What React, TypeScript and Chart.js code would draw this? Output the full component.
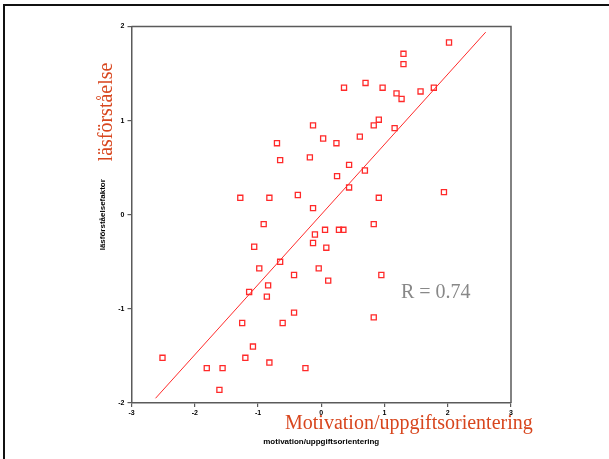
import React, { useEffect, useRef } from "react";
import { Chart, registerables } from "chart.js";

Chart.register(...registerables);

// Scatter data (standardised scores)
const motivationX: number[] = [
  2.02, 1.30, 1.30, 0.36, 0.70, 0.97, 1.19, 1.27, 1.57, 1.78,
  -0.13, 0.03, 0.24, 0.61, 0.83, 0.91, 1.16, -0.70, -0.65, -0.18,
  0.44, 0.69, 0.25, 0.44, 0.91, 1.94, -1.28, -0.82, -0.37, -0.13,
  -0.91, -0.10, -0.13, -1.06, -0.65, -0.04, -0.98, -0.43, -0.84, -1.14,
  -0.86, -0.43, -1.25, -0.61, -1.08, -2.51, -1.20, -0.82, -1.81, -1.56,
  -0.25, -1.61, 0.06, 0.28, 0.35, 0.83, 0.08, 0.11, 0.95, 0.83,
];
const lasforstaelseY: number[] = [
  1.83, 1.71, 1.60, 1.35, 1.40, 1.35, 1.29, 1.23, 1.31, 1.35,
  0.95, 0.81, 0.76, 0.83, 0.95, 1.01, 0.92, 0.76, 0.58, 0.61,
  0.53, 0.47, 0.41, 0.29, 0.18, 0.24, 0.18, 0.18, 0.21, 0.07,
  -0.10, -0.21, -0.30, -0.34, -0.50, -0.57, -0.57, -0.64, -0.75, -0.82,
  -0.87, -1.04, -1.15, -1.15, -1.40, -1.52, -1.52, -1.57, -1.63, -1.63,
  -1.63, -1.86, -0.16, -0.16, -0.16, -0.10, -0.35, -0.70, -0.64, -1.09,
];

// Regression line end points
const fitX: number[] = [-2.62, 2.6];
const fitY: number[] = [-1.95, 1.94];

const xTickValues: number[] = [-3, -2, -1, 0, 1, 2, 3];
const yTickValues: number[] = [-2, -1, 0, 1, 2];

const yTitleBig = "läsförståelse";
const xTitleBig = "Motivation/uppgiftsorientering";
const yTitleSmall = "läsförståelsefaktor";
const xTitleSmall = "motivation/uppgiftsorientering";
const rLabel = "R = 0.74";

const RED = "#ff2a2a";
const ORANGE = "#d8461e";
const FRAME = "#5a5a5a";

const framePlugin = {
  id: "frame",
  afterDraw(chart: any) {
    const { ctx, chartArea } = chart;
    ctx.save();
    ctx.strokeStyle = FRAME;
    ctx.lineWidth = 1.5;
    ctx.beginPath();
    ctx.moveTo(chartArea.left, chartArea.top);
    ctx.lineTo(chartArea.right, chartArea.top);
    ctx.lineTo(chartArea.right, chartArea.bottom);
    ctx.stroke();
    ctx.restore();
  },
};

export default function App() {
  const ref = useRef<HTMLCanvasElement | null>(null);

  useEffect(() => {
    if (!ref.current) return;
    const points = motivationX.map((x, i) => ({ x, y: lasforstaelseY[i] }));
    const fit = fitX.map((x, i) => ({ x, y: fitY[i] }));
    const tickFont = { family: "Arial, 'Liberation Sans', sans-serif", size: 7, weight: "bold" as const };
    const titleFont = { family: "Arial, 'Liberation Sans', sans-serif", size: 8, weight: "bold" as const };

    const chart = new Chart(ref.current, {
      type: "scatter",
      data: {
        datasets: [
          {
            type: "line",
            data: fit,
            borderColor: RED,
            borderWidth: 1,
            pointRadius: 0,
            showLine: true,
            fill: false,
          } as any,
          {
            data: points,
            pointStyle: "rect",
            pointRadius: 3.6,
            borderColor: RED,
            backgroundColor: "rgba(255,255,255,0)",
            borderWidth: 1.3,
          },
        ],
      },
      options: {
        responsive: false,
        animation: false,
        layout: { padding: { left: 98, top: 26.5, right: 98, bottom: 12 } },
        plugins: { legend: { display: false }, tooltip: { enabled: false } },
        scales: {
          x: {
            type: "linear",
            min: -3,
            max: 3,
            afterBuildTicks: (s: any) => {
              s.ticks = xTickValues.map((v) => ({ value: v }));
            },
            afterFit: (s: any) => {
              s.height = 44;
            },
            ticks: { font: tickFont, color: "#000", padding: 2, maxRotation: 0 },
            grid: { display: true, drawOnChartArea: false, drawTicks: true, tickLength: 4, color: FRAME, lineWidth: 1.2 },
            border: { display: true, color: FRAME, width: 1.5 },
            title: {
              display: true,
              text: xTitleSmall,
              color: "#000",
              font: titleFont,
              padding: { top: 0, bottom: 0 },
            },
          },
          y: {
            type: "linear",
            min: -2,
            max: 2,
            afterBuildTicks: (s: any) => {
              s.ticks = yTickValues.map((v) => ({ value: v }));
            },
            afterFit: (s: any) => {
              s.width = 33.5;
            },
            ticks: { font: tickFont, color: "#000", padding: 3 },
            grid: { display: true, drawOnChartArea: false, drawTicks: true, tickLength: 4, color: FRAME, lineWidth: 1.2 },
            border: { display: true, color: FRAME, width: 1.5 },
            title: {
              display: true,
              text: yTitleSmall,
              color: "#000",
              font: titleFont,
              padding: { top: 0, bottom: 0 },
            },
          },
        },
      },
      plugins: [framePlugin],
    });
    return () => chart.destroy();
  }, []);

  const serif = "'Liberation Serif', 'Times New Roman', serif";

  return (
    <div style={{ position: "fixed", left: 0, top: 0, width: 609, height: 459, background: "#fff", overflow: "hidden" }}>
      <canvas ref={ref} width={609} height={459} style={{ position: "absolute", left: 0, top: 0 }} />
      <div
        style={{
          position: "absolute",
          left: 3,
          top: 4,
          width: 620,
          height: 470,
          borderTop: "2.5px solid #111",
          borderLeft: "2.5px solid #111",
          pointerEvents: "none",
        }}
      />
      <div
        style={{
          position: "absolute",
          left: 105,
          top: 112,
          transform: "translate(-50%, -50%) rotate(-90deg)",
          fontFamily: serif,
          fontSize: 20,
          lineHeight: 1,
          color: ORANGE,
          whiteSpace: "nowrap",
        }}
      >
        {yTitleBig}
      </div>
      <div
        style={{
          position: "absolute",
          left: 285,
          top: 422,
          transform: "translateY(-50%)",
          fontFamily: serif,
          fontSize: 20,
          lineHeight: 1,
          color: ORANGE,
          whiteSpace: "nowrap",
        }}
      >
        {xTitleBig}
      </div>
      <div
        style={{
          position: "absolute",
          left: 401,
          top: 291,
          transform: "translateY(-50%)",
          fontFamily: serif,
          fontSize: 20,
          lineHeight: 1,
          color: "#888",
          whiteSpace: "nowrap",
        }}
      >
        {rLabel}
      </div>
    </div>
  );
}
